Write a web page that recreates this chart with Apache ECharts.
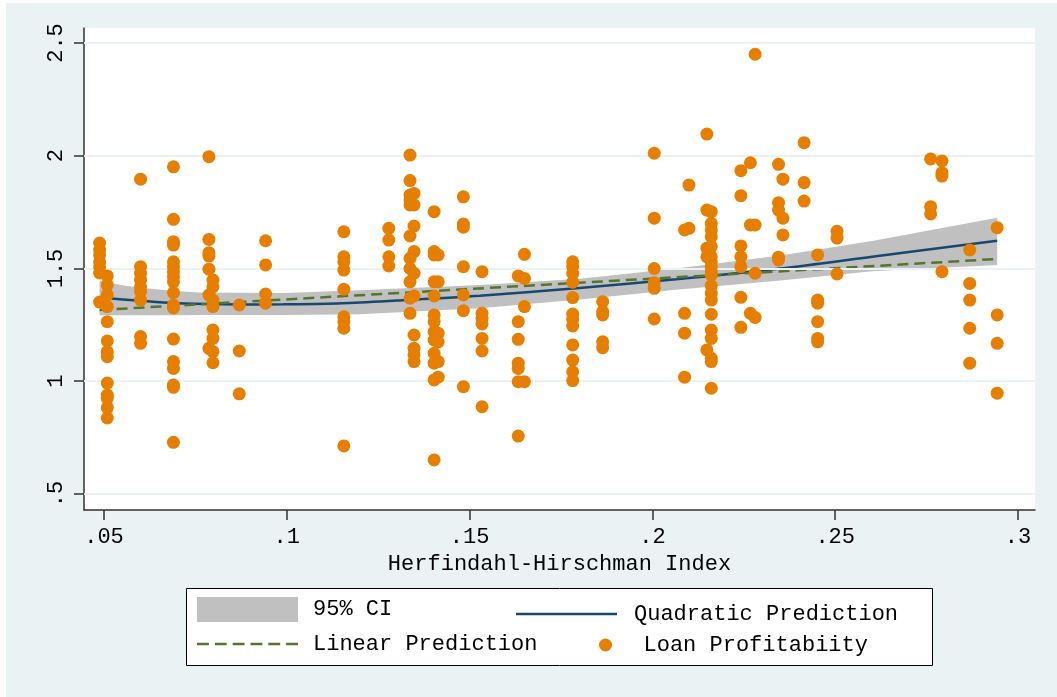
<!DOCTYPE html>
<html>
<head>
<meta charset="utf-8">
<script src="https://cdn.jsdelivr.net/npm/echarts@6/dist/echarts.min.js"></script>
<style>
html, body { margin: 0; padding: 0; background: #fff; }
#bg { position: absolute; left: 6px; top: 3px; width: 1051px; height: 694px; background: #eaf2f3; }
#chart { position: absolute; left: 0; top: 0; width: 1057px; height: 697px; }
</style>
</head>
<body>
<div id="bg"></div>
<div id="chart"></div>
<script>
// HHI value of each column of observations and the loan profitability values in it
var colX = [0.0488, 0.0509, 0.0600, 0.0690, 0.0787, 0.0798, 0.0870, 0.0942, 0.1156, 0.1279,
  0.1337, 0.1348, 0.1403, 0.1414, 0.1483, 0.1534, 0.1633, 0.1650, 0.1782, 0.1864,
  0.2005, 0.2088, 0.2100, 0.2149, 0.2161, 0.2242, 0.2268, 0.2281, 0.2345, 0.2357,
  0.2415, 0.2452, 0.2505, 0.2761, 0.2792, 0.2868, 0.2943];
var colY = [
  [1.613, 1.582, 1.56, 1.529, 1.507, 1.48, 1.351],
  [1.467, 1.427, 1.383, 1.331, 1.264, 1.179, 1.131, 1.109, 0.992, 0.939, 0.925, 0.883, 0.837],
  [1.896, 1.508, 1.479, 1.449, 1.419, 1.397, 1.36, 1.198, 1.168],
  [1.951, 1.718, 1.619, 1.604, 1.53, 1.508, 1.486, 1.464, 1.441, 1.393, 1.338, 1.325, 1.187, 1.087, 1.057, 0.983, 0.973, 0.729],
  [1.996, 1.629, 1.57, 1.555, 1.497, 1.382, 1.146],
  [1.449, 1.419, 1.36, 1.331, 1.227, 1.19, 1.131, 1.082],
  [1.338, 1.134, 0.944],
  [1.623, 1.516, 1.387, 1.346],
  [1.663, 1.552, 1.53, 1.493, 1.408, 1.286, 1.264, 1.235, 0.713],
  [1.678, 1.626, 1.552, 1.511],
  [2.003, 1.89, 1.826, 1.804, 1.782, 1.644, 1.545, 1.50, 1.441, 1.368, 1.301],
  [1.833, 1.782, 1.688, 1.575, 1.479, 1.378, 1.205, 1.146, 1.117, 1.087],
  [1.752, 1.575, 1.56, 1.441, 1.378, 1.294, 1.264, 1.22, 1.183, 1.124, 1.08, 1.006, 0.651],
  [1.56, 1.441, 1.213, 1.175, 1.087, 1.018],
  [1.818, 1.697, 1.683, 1.508, 1.383, 1.313, 0.976],
  [1.486, 1.301, 1.279, 1.254, 1.19, 1.134, 0.887],
  [1.467, 1.264, 1.186, 1.08, 1.057, 0.998, 0.757],
  [1.563, 1.456, 1.331, 0.998],
  [1.53, 1.508, 1.479, 1.439, 1.371, 1.298, 1.275, 1.245, 1.161, 1.094, 1.042, 1.003],
  [1.353, 1.309, 1.294, 1.175, 1.149],
  [2.011, 1.723, 1.50, 1.437, 1.412, 1.276],
  [1.671, 1.301, 1.213, 1.018],
  [1.87, 1.678],
  [2.096, 1.759, 1.59, 1.552, 1.139],
  [1.752, 1.70, 1.671, 1.641, 1.597, 1.552, 1.53, 1.508, 1.486, 1.471, 1.424, 1.39, 1.36, 1.297, 1.227, 1.19, 1.102, 1.087, 0.969],
  [1.934, 1.823, 1.60, 1.552, 1.508, 1.372, 1.239],
  [1.969, 1.693, 1.301],
  [2.45, 1.693, 1.479, 1.283],
  [1.962, 1.792, 1.759, 1.55, 1.538],
  [1.896, 1.723, 1.649],
  [2.058, 1.881, 1.799],
  [1.56, 1.36, 1.346, 1.264, 1.19, 1.175],
  [1.665, 1.635, 1.476],
  [1.986, 1.774, 1.742],
  [1.977, 1.925, 1.91, 1.486],
  [1.582, 1.434, 1.36, 1.235, 1.08],
  [1.681, 1.294, 1.168, 0.947]
];

// fitted curves
var quadX = [0.0488, 0.06, 0.069, 0.08, 0.09, 0.0992, 0.115, 0.13, 0.1528, 0.18, 0.2065, 0.235, 0.2601, 0.2943];
var quadY = [1.371, 1.357, 1.347, 1.342, 1.340, 1.341, 1.346, 1.358, 1.379, 1.414, 1.452, 1.500, 1.552, 1.623];
var linX = [0.0488, 0.2943];
var linY = [1.316, 1.542];
var ciX = [0.0488, 0.055, 0.0615, 0.069, 0.0763, 0.0992, 0.12, 0.1528, 0.1802, 0.2065, 0.235, 0.2601, 0.2943];
var ciUpper = [1.444, 1.426, 1.412, 1.400, 1.393, 1.391, 1.404, 1.427, 1.455, 1.500, 1.558, 1.622, 1.725];
var ciLower = [1.293, 1.293, 1.293, 1.293, 1.294, 1.294, 1.297, 1.324, 1.362, 1.406, 1.447, 1.488, 1.516];

var xTicks = [0.05, 0.1, 0.15, 0.2, 0.25, 0.3];
var xTickLabels = ['.05', '.1', '.15', '.2', '.25', '.3'];
var yTicks = [0.5, 1, 1.5, 2, 2.5];
var yTickLabels = ['.5', '1', '1.5', '2', '2.5'];

var FONT = 'Liberation Mono';
// legend keys for the two fitted lines
var solidKey = 'path://M0,0h102v2.6h-102z';
var dashedKey = 'path://M0,0h12v2.6h-12z M18,0h12v2.6h-12z M36,0h12v2.6h-12z M54,0h12v2.6h-12z M72,0h12v2.6h-12z M90,0h12v2.6h-12z';

function zip(xs, ys) {
  return xs.map(function (x, i) { return [x, ys[i]]; });
}
function tickLabel(ticks, labels) {
  return function (v) {
    for (var i = 0; i < ticks.length; i++) {
      if (Math.abs(ticks[i] - v) < 1e-9) return labels[i];
    }
    return '';
  };
}

var points = [];
colX.forEach(function (x, i) {
  colY[i].forEach(function (y) { points.push([x, y]); });
});

var axisColor = '#333';
var legendText = function (pad) {
  return { fontFamily: FONT, fontSize: 22, color: '#000', padding: [0, 0, 0, pad] };
};

var chart = echarts.init(document.getElementById('chart'));
chart.setOption({
  animation: false,
  backgroundColor: 'transparent',
  textStyle: { fontFamily: FONT },
  grid: { left: 84, top: 28, right: 22, bottom: 187, show: true, backgroundColor: '#fff', borderWidth: 0 },
  xAxis: {
    type: 'value',
    min: 0.04453,
    max: 0.30465,
    name: 'Herfindahl-Hirschman Index',
    nameLocation: 'middle',
    nameGap: 42,
    nameTextStyle: { fontFamily: FONT, fontSize: 22, color: '#000' },
    axisLine: { show: true, onZero: false, lineStyle: { color: axisColor, width: 1.5 } },
    axisTick: { show: true, length: 10, customValues: xTicks, lineStyle: { color: axisColor, width: 1.5 } },
    axisLabel: { customValues: xTicks, formatter: tickLabel(xTicks, xTickLabels), fontFamily: FONT, fontSize: 22, color: '#000', margin: 16 },
    splitLine: { show: false }
  },
  yAxis: {
    type: 'value',
    min: 0.429,
    max: 2.5665,
    axisLine: { show: true, onZero: false, lineStyle: { color: axisColor, width: 1.5 } },
    axisTick: { show: true, length: 10, customValues: yTicks, lineStyle: { color: axisColor, width: 1.5 } },
    axisLabel: { customValues: yTicks, formatter: tickLabel(yTicks, yTickLabels), rotate: 90, fontFamily: FONT, fontSize: 22, color: '#000', margin: 17 },
    splitLine: { show: false }
  },
  legend: [
    { left: 197, top: 597, padding: 0, itemWidth: 101, itemHeight: 25, selectedMode: false,
      textStyle: legendText(10),
      data: [{ name: '95% CI', icon: 'rect', itemStyle: { color: '#c0c0c0', opacity: 1 } }] },
    { left: 516, top: 603, padding: 0, itemWidth: 101, itemHeight: 24, selectedMode: false,
      textStyle: legendText(12),
      data: [{ name: 'Quadratic Prediction', icon: solidKey, itemStyle: { color: '#1a476f' } }] },
    { left: 197, top: 633, padding: 0, itemWidth: 101, itemHeight: 24, selectedMode: false,
      textStyle: legendText(10),
      data: [{ name: 'Linear Prediction', icon: dashedKey, itemStyle: { color: '#55752f' } }] },
    { left: 599, top: 634, padding: 0, itemWidth: 14, itemHeight: 13, selectedMode: false,
      textStyle: legendText(26),
      data: ['Loan Profitabiity'] }
  ],
  graphic: [{
    type: 'rect', silent: true, z: 0,
    shape: { x: 186.5, y: 588.5, width: 746, height: 77 },
    style: { fill: '#fff', stroke: '#000', lineWidth: 1 }
  }],
  series: [
    {
      name: 'grid', type: 'line', data: [], silent: true, z: 1,
      markLine: {
        silent: true, symbol: 'none', label: { show: false },
        lineStyle: { color: '#eaf2f3', width: 2, type: 'solid' },
        data: yTicks.map(function (v) { return { yAxis: v }; })
      }
    },
    {
      name: '95% CI', type: 'custom', silent: true, z: 2,
      itemStyle: { color: '#c0c0c0' },
      data: [[ciX[0], ciLower[0]]],
      renderItem: function (params, api) {
        var pts = [];
        for (var i = 0; i < ciX.length; i++) pts.push(api.coord([ciX[i], ciUpper[i]]));
        for (var j = ciX.length - 1; j >= 0; j--) pts.push(api.coord([ciX[j], ciLower[j]]));
        return { type: 'polygon', shape: { points: pts }, style: { fill: '#c0c0c0' } };
      }
    },
    {
      name: 'Quadratic Prediction', type: 'line', smooth: 0.3, symbol: 'none', color: '#1a476f',
      data: zip(quadX, quadY), lineStyle: { color: '#1a476f', width: 2.5 }, z: 3
    },
    {
      name: 'Linear Prediction', type: 'line', symbol: 'none', color: '#55752f',
      data: zip(linX, linY), lineStyle: { color: '#55752f', width: 2.5, type: [11, 6] }, z: 3
    },
    {
      name: 'Loan Profitabiity', type: 'scatter', symbol: 'circle', symbolSize: 13,
      itemStyle: { color: '#e67e00', opacity: 1 }, data: points, z: 5
    }
  ]
});
</script>
</body>
</html>
